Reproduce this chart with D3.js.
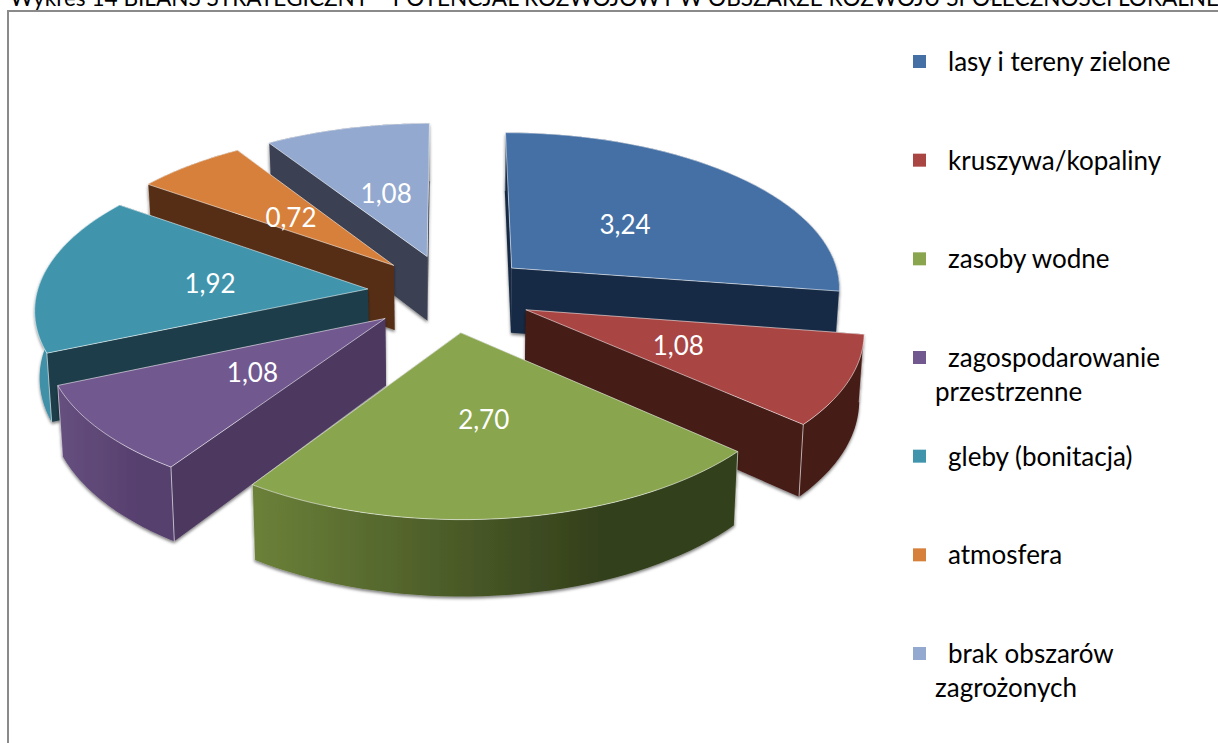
<!DOCTYPE html>
<html>
<head>
<meta charset="utf-8">
<script src="https://cdn.jsdelivr.net/npm/d3@7"></script>
<style>
  body { margin: 0; background: #fff; }
  text { font-family: Lato, "Open Sans", sans-serif; }
</style>
</head>
<body>
<div id="graph"></div>
<script>
const title = "Wykres 14 BILANS STRATEGICZNY – POTENCJAŁ ROZWOJOWY W OBSZARZE ROZWOJU SPOŁECZNOŚCI LOKALNEJ"
const categories = [
  ["lasy i tereny zielone"],
  ["kruszywa/kopaliny"],
  ["zasoby wodne"],
  ["zagospodarowanie", "przestrzenne"],
  ["gleby (bonitacja)"],
  ["atmosfera"],
  ["brak obszarów", "zagrożonych"]
]
const values = [3.24, 1.08, 2.70, 1.08, 1.92, 0.72, 1.08]
const topColours = ["#4470a6", "#a94543", "#89a54e", "#71588f", "#4095ad", "#d7803b", "#93a9cf"]
const wallColours = ["#182b44", "#451a18", "#37431c", "#4d3960", "#1a3e48", "#572f15", "#3a4052"]
const rimLeft = ["#182b44", "#451a18", "#6b8139", "#66507f", "#3f90a8", "#572f15", "#3a4052"]
const rimRight = ["#182b44", "#451a18", "#333f1b", "#573f6e", "#3f90a8", "#572f15", "#3a4052"]
// kolejnosc rysowania, od tylu do przodu
const drawOrder = [6, 5, 4, 0, 1, 3, 2]

const width = 1218
const height = 743
const cx = 450
const cy = 293
const rx = 331
const ry = 156
const explode = 0.25
const persp = 0.113
const depth = 66

const svg = d3.select("#graph").append("svg")
  .attr("width", width)
  .attr("height", height)
  .style("display", "block")

const defs = svg.append("defs")
const shadow = defs.append("filter")
  .attr("id", "shadow")
  .attr("x", "-10%").attr("y", "-10%")
  .attr("width", "120%").attr("height", "125%")
shadow.append("feDropShadow")
  .attr("dx", 0).attr("dy", 2)
  .attr("stdDeviation", 1.5)
  .attr("flood-color", "#000")
  .attr("flood-opacity", 0.5)

// Titulo cortado arriba y marco
svg.append("text")
  .attr("x", 10).attr("y", 6)
  .attr("font-size", 22.6)
  .attr("fill", "#000")
  .text(title)

svg.append("path")
  .attr("d", `M8,${height}V11H${width}`)
  .attr("fill", "none")
  .attr("stroke", "#8a8a8a")
  .attr("stroke-width", 2)

const xScale = d3.scaleLinear().domain([-1, 1]).range([cx - rx, cx + rx])
const yScale = d3.scaleLinear().domain([-1, 1]).range([cy - ry, cy + ry])

const pie = d3.pie().sort(null)
const arcs = pie(values)

// u,v en el plano del pie (v hacia el observador), z=1 es la base
const project = (u, v, z = 0) => {
  const k = 1 / (1 - persp * v)
  const shrink = 1 - 0.012 * z
  return [xScale(u * k * shrink), yScale(v * k) + z * depth * k]
}

const line = d3.line()

const slices = arcs.map((a, i) => {
  const mid = (a.startAngle + a.endAngle) / 2
  const ox = explode * Math.sin(mid)
  const oy = -explode * Math.cos(mid)
  const steps = d3.range(0, 41).map(s => a.startAngle + (a.endAngle - a.startAngle) * s / 40)
  const rim = steps.map(t => [ox + Math.sin(t), oy - Math.cos(t)])
  return { i, mid, apex: [ox, oy], rim }
})

const facePath = pts => line(pts) + "Z"
const down = p => project(p[0], p[1], 1)
const up = p => project(p[0], p[1], 0)

const pieG = svg.append("g")

drawOrder.forEach(idx => {
  const s = slices[idx]
  const g = pieG.append("g")
  const walls = g.append("g").attr("filter", "url(#shadow)")

  const first = s.rim[0]
  const last = s.rim[s.rim.length - 1]

  const grad = defs.append("linearGradient")
    .attr("id", `rim${idx}`)
    .attr("gradientUnits", "userSpaceOnUse")
    .attr("x1", up(first)[0] < up(last)[0] ? up(first)[0] : up(last)[0])
    .attr("x2", up(first)[0] < up(last)[0] ? up(last)[0] : up(first)[0])
    .attr("y1", 0).attr("y2", 0)
  grad.append("stop").attr("offset", "0%").attr("stop-color", rimLeft[idx])
  grad.append("stop").attr("offset", "72%").attr("stop-color", rimRight[idx])
  grad.append("stop").attr("offset", "100%").attr("stop-color", rimRight[idx])

  const faces = [
    { v: (s.apex[1] + first[1]) / 2, pts: [up(s.apex), up(first), down(first), down(s.apex)], fill: wallColours[idx] },
    { v: (s.apex[1] + last[1]) / 2, pts: [up(s.apex), up(last), down(last), down(s.apex)], fill: wallColours[idx] },
    { v: d3.mean(s.rim, p => p[1]), pts: s.rim.map(up).concat(s.rim.map(down).reverse()), fill: `url(#rim${idx})` }
  ].sort((a, b) => a.v - b.v)

  walls.selectAll("path")
    .data(faces)
    .join("path")
      .attr("d", d => facePath(d.pts))
      .attr("fill", d => d.fill)

  // aristas verticales
  g.selectAll("line")
    .data([first, last])
    .join("line")
      .attr("x1", d => up(d)[0]).attr("y1", d => up(d)[1])
      .attr("x2", d => down(d)[0]).attr("y2", d => down(d)[1])
      .attr("stroke", "#fff")
      .attr("stroke-opacity", 0.75)
      .attr("stroke-width", 0.8)

  g.append("path")
    .attr("d", facePath([up(s.apex)].concat(s.rim.map(up))))
    .attr("fill", topColours[idx])
    .attr("stroke", "#fff")
    .attr("stroke-opacity", 0.7)
    .attr("stroke-width", 0.8)
    .attr("stroke-linejoin", "round")
})

// Etiquetas de datos
const labelRadius = 0.485
const fmt = v => v.toFixed(2).replace(".", ",")
svg.append("g").selectAll("text")
  .data(slices)
  .join("text")
    .attr("x", d => project(d.apex[0] + labelRadius * Math.sin(d.mid), d.apex[1] - labelRadius * Math.cos(d.mid))[0])
    .attr("y", d => project(d.apex[0] + labelRadius * Math.sin(d.mid), d.apex[1] - labelRadius * Math.cos(d.mid))[1] + 2)
    .attr("text-anchor", "middle")
    .attr("dominant-baseline", "central")
    .attr("font-size", 26)
    .attr("fill", "#fff")
    .text(d => fmt(values[d.i]))

// Leyenda
const legendY = d3.scaleLinear().domain([0, 6]).range([61, 653])
const legend = svg.append("g").selectAll("g")
  .data(categories)
  .join("g")
    .attr("transform", (_, i) => `translate(913,${legendY(i)})`)

legend.append("rect")
  .attr("y", -6)
  .attr("width", 13).attr("height", 13)
  .attr("fill", (_, i) => topColours[i])

legend.selectAll("text")
  .data(d => d)
  .join("text")
    .attr("x", (_, j) => j === 0 ? 35 : 22)
    .attr("y", (_, j) => j * 34)
    .attr("dominant-baseline", "central")
    .attr("font-size", 26)
    .attr("fill", "#000")
    .text(d => d)
</script>
</body>
</html>
